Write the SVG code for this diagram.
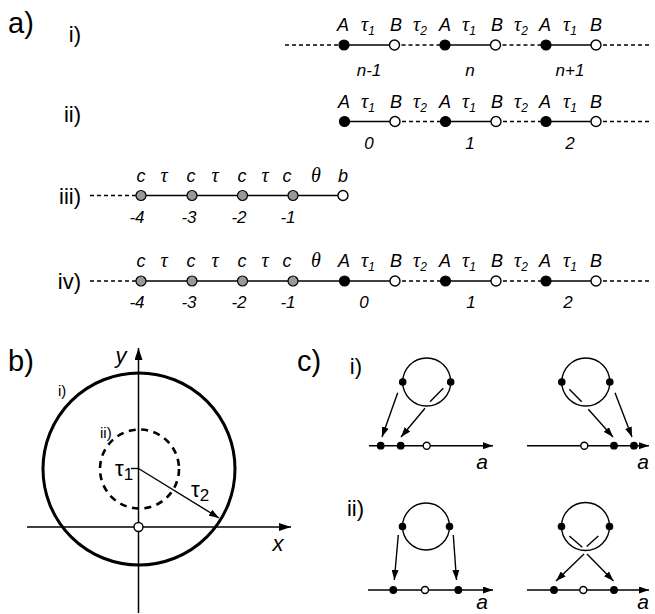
<svg xmlns="http://www.w3.org/2000/svg" width="655" height="614" viewBox="0 0 655 614">
<style>
.bg{fill:#fff}
.sol{stroke:#000;stroke-width:1.4;fill:none}
.dsh{stroke:#000;stroke-width:1.4;fill:none;stroke-dasharray:4 3}
.blk{fill:#000;stroke:#000;stroke-width:1.2}
.opn{fill:#fff;stroke:#000;stroke-width:1.4}
.gry{fill:#999;stroke:#000;stroke-width:1.2}
.lbl{font-family:"Liberation Sans",Arial,sans-serif;font-style:italic;font-size:18px;text-anchor:middle}
.grk{font-family:"Liberation Serif","Times New Roman",serif;font-style:italic;font-size:20px;text-anchor:middle}
.sub{font-family:"Liberation Sans",Arial,sans-serif;font-style:italic;font-size:12px}
.num{font-family:"Liberation Sans",Arial,sans-serif;font-style:italic;font-size:17px;text-anchor:middle}
.pan{font-family:"Liberation Sans",Arial,sans-serif;font-size:29px}
.rom{font-family:"Liberation Sans",Arial,sans-serif;font-size:22px;text-anchor:end}
.roms{font-family:"Liberation Sans",Arial,sans-serif;font-size:15px}
.ax{stroke:#000;stroke-width:1.5;fill:none}
.arr{stroke:#000;stroke-width:1.4;fill:none}
.al{font-family:"Liberation Sans",Arial,sans-serif;font-style:italic;font-size:21px;text-anchor:middle}
</style>
<defs>
<marker id="ah" markerWidth="10" markerHeight="7" refX="10" refY="3.5" orient="auto" markerUnits="userSpaceOnUse">
<path d="M0,0 L10,3.5 L0,7 z" fill="#000"/>
</marker>
<marker id="ahb" markerWidth="12" markerHeight="8" refX="12" refY="4" orient="auto" markerUnits="userSpaceOnUse">
<path d="M0,0 L12,4 L0,8 z" fill="#000"/>
</marker>
</defs>
<rect class="bg" width="655" height="614"/>

<!-- Panel a -->
<g id="panel-a">
<text class="pan" x="8" y="33">a)</text>
<text class="rom" x="81" y="42">i)</text>
<text class="rom" x="81" y="122">ii)</text>
<text class="rom" x="81" y="204">iii)</text>
<text class="rom" x="81" y="289">iv)</text>
</g>

<!-- Row i -->
<g id="row-i">
<g id="row-i-connectors">
<line class="dsh" x1="285" y1="45" x2="344" y2="45"/>
<line class="sol" x1="344" y1="45" x2="394.5" y2="45"/>
<line class="dsh" x1="394.5" y1="45" x2="445" y2="45"/>
<line class="sol" x1="445" y1="45" x2="495.5" y2="45"/>
<line class="dsh" x1="495.5" y1="45" x2="546" y2="45"/>
<line class="sol" x1="546" y1="45" x2="596" y2="45"/>
<line class="dsh" x1="596" y1="45" x2="652" y2="45"/>
</g>
<g id="i-A1"><circle class="blk" cx="344" cy="45" r="5"/></g>
<g id="i-B1"><circle class="opn" cx="394.5" cy="45" r="5"/></g>
<g id="i-A2"><circle class="blk" cx="445" cy="45" r="5"/></g>
<g id="i-B2"><circle class="opn" cx="495.5" cy="45" r="5"/></g>
<g id="i-A3"><circle class="blk" cx="546" cy="45" r="5"/></g>
<g id="i-B3"><circle class="opn" cx="596" cy="45" r="5"/></g>
<text class="lbl" x="343" y="31">A</text>
<text class="grk" x="368" y="31">τ<tspan class="sub" dy="4">1</tspan></text>
<text class="lbl" x="396" y="31">B</text>
<text class="grk" x="420" y="31">τ<tspan class="sub" dy="4">2</tspan></text>
<text class="lbl" x="445" y="31">A</text>
<text class="grk" x="469" y="31">τ<tspan class="sub" dy="4">1</tspan></text>
<text class="lbl" x="497" y="31">B</text>
<text class="grk" x="521" y="31">τ<tspan class="sub" dy="4">2</tspan></text>
<text class="lbl" x="545" y="31">A</text>
<text class="grk" x="570" y="31">τ<tspan class="sub" dy="4">1</tspan></text>
<text class="lbl" x="596" y="31">B</text>
<text class="num" x="369" y="76">n-1</text>
<text class="num" x="470" y="76">n</text>
<text class="num" x="570" y="76">n+1</text>
</g>

<!-- Row ii -->
<g id="row-ii">
<g id="row-ii-connectors">
<line class="sol" x1="344.5" y1="121.5" x2="395" y2="121.5"/>
<line class="dsh" x1="395" y1="121.5" x2="445.5" y2="121.5"/>
<line class="sol" x1="445.5" y1="121.5" x2="496" y2="121.5"/>
<line class="dsh" x1="496" y1="121.5" x2="546" y2="121.5"/>
<line class="sol" x1="546" y1="121.5" x2="596" y2="121.5"/>
<line class="dsh" x1="596" y1="121.5" x2="652" y2="121.5"/>
</g>
<g id="ii-A0"><circle class="blk" cx="344.5" cy="121.5" r="5"/></g>
<g id="ii-B0"><circle class="opn" cx="395" cy="121.5" r="5"/></g>
<g id="ii-A1"><circle class="blk" cx="445.5" cy="121.5" r="5"/></g>
<g id="ii-B1"><circle class="opn" cx="496" cy="121.5" r="5"/></g>
<g id="ii-A2"><circle class="blk" cx="546" cy="121.5" r="5"/></g>
<g id="ii-B2"><circle class="opn" cx="596" cy="121.5" r="5"/></g>
<text class="lbl" x="344" y="107.5">A</text>
<text class="grk" x="368" y="107.5">τ<tspan class="sub" dy="4">1</tspan></text>
<text class="lbl" x="396" y="107.5">B</text>
<text class="grk" x="420" y="107.5">τ<tspan class="sub" dy="4">2</tspan></text>
<text class="lbl" x="445" y="107.5">A</text>
<text class="grk" x="469" y="107.5">τ<tspan class="sub" dy="4">1</tspan></text>
<text class="lbl" x="497" y="107.5">B</text>
<text class="grk" x="521" y="107.5">τ<tspan class="sub" dy="4">2</tspan></text>
<text class="lbl" x="545" y="107.5">A</text>
<text class="grk" x="570" y="107.5">τ<tspan class="sub" dy="4">1</tspan></text>
<text class="lbl" x="596" y="107.5">B</text>
<text class="num" x="369" y="148.5">0</text>
<text class="num" x="470" y="148.5">1</text>
<text class="num" x="570" y="148.5">2</text>
</g>

<!-- Row iii -->
<g id="row-iii">
<g id="row-iii-connectors">
<line class="dsh" x1="90" y1="195.5" x2="141" y2="195.5"/>
<line class="sol" x1="141" y1="195.5" x2="343" y2="195.5"/>
</g>
<g id="iii-c4"><circle class="gry" cx="141" cy="195.5" r="5"/></g>
<g id="iii-c3"><circle class="gry" cx="192" cy="195.5" r="5"/></g>
<g id="iii-c2"><circle class="gry" cx="242.5" cy="195.5" r="5"/></g>
<g id="iii-c1"><circle class="gry" cx="293" cy="195.5" r="5"/></g>
<g id="iii-b"><circle class="opn" cx="343" cy="195.5" r="5"/></g>
<text class="lbl" x="141" y="181.5">c</text>
<text class="grk" x="164" y="181.5">τ</text>
<text class="lbl" x="191" y="181.5">c</text>
<text class="grk" x="215" y="181.5">τ</text>
<text class="lbl" x="242" y="181.5">c</text>
<text class="grk" x="265" y="181.5">τ</text>
<text class="lbl" x="287" y="181.5">c</text>
<text class="grk" x="316" y="181.5">θ</text>
<text class="lbl" x="343" y="181.5">b</text>
<text class="num" x="137" y="222.5">-4</text>
<text class="num" x="189" y="222.5">-3</text>
<text class="num" x="239" y="222.5">-2</text>
<text class="num" x="288" y="222.5">-1</text>
</g>

<!-- Row iv -->
<g id="row-iv">
<g id="row-iv-connectors">
<line class="dsh" x1="90" y1="281" x2="141" y2="281"/>
<line class="sol" x1="141" y1="281" x2="395" y2="281"/>
<line class="dsh" x1="395" y1="281" x2="445.5" y2="281"/>
<line class="sol" x1="445.5" y1="281" x2="496" y2="281"/>
<line class="dsh" x1="496" y1="281" x2="546" y2="281"/>
<line class="sol" x1="546" y1="281" x2="596" y2="281"/>
<line class="dsh" x1="596" y1="281" x2="652" y2="281"/>
</g>
<g id="iv-c4"><circle class="gry" cx="141" cy="281" r="5"/></g>
<g id="iv-c3"><circle class="gry" cx="192" cy="281" r="5"/></g>
<g id="iv-c2"><circle class="gry" cx="242.5" cy="281" r="5"/></g>
<g id="iv-c1"><circle class="gry" cx="293" cy="281" r="5"/></g>
<g id="iv-A0"><circle class="blk" cx="344.5" cy="281" r="5"/></g>
<g id="iv-B0"><circle class="opn" cx="395" cy="281" r="5"/></g>
<g id="iv-A1"><circle class="blk" cx="445.5" cy="281" r="5"/></g>
<g id="iv-B1"><circle class="opn" cx="496" cy="281" r="5"/></g>
<g id="iv-A2"><circle class="blk" cx="546" cy="281" r="5"/></g>
<g id="iv-B2"><circle class="opn" cx="596" cy="281" r="5"/></g>
<text class="lbl" x="141" y="267">c</text>
<text class="grk" x="164" y="267">τ</text>
<text class="lbl" x="191" y="267">c</text>
<text class="grk" x="215" y="267">τ</text>
<text class="lbl" x="242" y="267">c</text>
<text class="grk" x="265" y="267">τ</text>
<text class="lbl" x="287" y="267">c</text>
<text class="grk" x="316" y="267">θ</text>
<text class="lbl" x="344" y="267">A</text>
<text class="grk" x="368" y="267">τ<tspan class="sub" dy="4">1</tspan></text>
<text class="lbl" x="396" y="267">B</text>
<text class="grk" x="420" y="267">τ<tspan class="sub" dy="4">2</tspan></text>
<text class="lbl" x="445" y="267">A</text>
<text class="grk" x="469" y="267">τ<tspan class="sub" dy="4">1</tspan></text>
<text class="lbl" x="497" y="267">B</text>
<text class="grk" x="521" y="267">τ<tspan class="sub" dy="4">2</tspan></text>
<text class="lbl" x="545" y="267">A</text>
<text class="grk" x="570" y="267">τ<tspan class="sub" dy="4">1</tspan></text>
<text class="lbl" x="596" y="267">B</text>
<text class="num" x="137" y="308">-4</text>
<text class="num" x="189" y="308">-3</text>
<text class="num" x="239" y="308">-2</text>
<text class="num" x="288" y="308">-1</text>
<text class="num" x="364" y="308">0</text>
<text class="num" x="471" y="308">1</text>
<text class="num" x="568" y="308">2</text>
</g>

<!-- Panel b -->
<g id="panel-b">
<text class="pan" x="8" y="371">b)</text>
<g id="b-axes">
<line class="ax" x1="138.5" y1="613" x2="138.5" y2="348" marker-end="url(#ahb)"/>
<line class="ax" x1="27" y1="527" x2="291" y2="527" marker-end="url(#ahb)"/>
</g>
<g id="b-circle-i"><circle cx="139" cy="469" r="96" fill="none" stroke="#000" stroke-width="3"/></g>
<g id="b-circle-ii"><circle cx="139.5" cy="469" r="39.5" fill="none" stroke="#000" stroke-width="2.6" stroke-dasharray="7 5.5"/></g>
<g id="b-origin"><circle class="opn" cx="138.5" cy="527" r="4.5"/></g>
<line class="sol" x1="131" y1="468.5" x2="138.5" y2="468.5"/>
<line class="arr" x1="138.5" y1="468.5" x2="219" y2="518" marker-end="url(#ah)"/>
<text x="115" y="476" font-family="'Liberation Sans',Arial,sans-serif" font-size="22">τ<tspan font-size="17" dy="4">1</tspan></text>
<text x="191" y="497" font-family="'Liberation Sans',Arial,sans-serif" font-size="22">τ<tspan font-size="17" dy="4">2</tspan></text>
<text x="121" y="363" font-family="'Liberation Sans',Arial,sans-serif" font-style="italic" font-size="22" text-anchor="middle">y</text>
<text x="278" y="551" font-family="'Liberation Sans',Arial,sans-serif" font-style="italic" font-size="22" text-anchor="middle">x</text>
<text class="roms" x="58" y="396">i)</text>
<text class="roms" x="100" y="438">ii)</text>
</g>

<!-- Panel c -->
<g id="panel-c">
<text class="pan" x="297" y="371">c)</text>
<text class="rom" x="362" y="374">i)</text>
<text class="rom" x="364" y="516">ii)</text>

<g id="c-i-left">
<circle cx="426.7" cy="382" r="24" class="sol"/>
<circle class="blk" cx="402.7" cy="382" r="3.2"/>
<circle class="blk" cx="450.7" cy="382" r="3.2"/>
<line class="sol" x1="430" y1="401.7" x2="443.3" y2="388.3"/>
<line class="ax" x1="369" y1="445.7" x2="493" y2="445.7" marker-end="url(#ah)"/>
<circle class="blk" cx="380.7" cy="445.7" r="3.3"/>
<circle class="blk" cx="400.7" cy="445.7" r="3.3"/>
<circle class="opn" cx="426.7" cy="445.7" r="3.5"/>
<line class="arr" x1="397.7" y1="392.7" x2="382" y2="437" marker-end="url(#ah)"/>
<line class="arr" x1="425" y1="408.3" x2="401" y2="437" marker-end="url(#ah)"/>
<text class="al" x="482" y="469">a</text>
</g>

<g id="c-i-right">
<circle cx="585.8" cy="382" r="24" class="sol"/>
<circle class="blk" cx="561.8" cy="382" r="3.2"/>
<circle class="blk" cx="609.8" cy="382" r="3.2"/>
<line class="sol" x1="569.3" y1="389.3" x2="581.7" y2="401.7"/>
<line class="ax" x1="527" y1="445.7" x2="649" y2="445.7" marker-end="url(#ah)"/>
<circle class="opn" cx="584.3" cy="445.7" r="3.5"/>
<circle class="blk" cx="614" cy="445.7" r="3.3"/>
<circle class="blk" cx="634" cy="445.7" r="3.3"/>
<line class="arr" x1="588.3" y1="409.3" x2="613" y2="437" marker-end="url(#ah)"/>
<line class="arr" x1="615" y1="392.7" x2="632" y2="437" marker-end="url(#ah)"/>
<text class="al" x="643" y="469">a</text>
</g>

<g id="c-ii-left">
<circle cx="426" cy="526.5" r="23.5" class="sol"/>
<circle class="blk" cx="402.5" cy="526.5" r="3.2"/>
<circle class="blk" cx="449.5" cy="526.5" r="3.2"/>
<line class="ax" x1="368" y1="590" x2="493" y2="590" marker-end="url(#ah)"/>
<circle class="blk" cx="393.3" cy="590" r="3.3"/>
<circle class="opn" cx="425" cy="590" r="3.5"/>
<circle class="blk" cx="458.3" cy="590" r="3.3"/>
<line class="arr" x1="398.3" y1="535" x2="394.3" y2="580" marker-end="url(#ah)"/>
<line class="arr" x1="453.3" y1="535" x2="456.5" y2="580" marker-end="url(#ah)"/>
<text class="al" x="482" y="609">a</text>
</g>

<g id="c-ii-right">
<circle cx="585.5" cy="526.5" r="24" class="sol"/>
<circle class="blk" cx="561.5" cy="526.5" r="3.2"/>
<circle class="blk" cx="609.5" cy="526.5" r="3.2"/>
<line class="sol" x1="569.3" y1="536" x2="582.3" y2="547.3"/>
<line class="sol" x1="598.3" y1="536" x2="586.7" y2="546.5"/>
<line class="ax" x1="527" y1="590" x2="649" y2="590" marker-end="url(#ah)"/>
<circle class="blk" cx="554" cy="590" r="3.3"/>
<circle class="opn" cx="583.3" cy="590" r="3.5"/>
<circle class="blk" cx="614" cy="590" r="3.3"/>
<line class="arr" x1="584" y1="554" x2="556" y2="581" marker-end="url(#ah)"/>
<line class="arr" x1="587" y1="554" x2="613.5" y2="581" marker-end="url(#ah)"/>
<text class="al" x="643" y="609">a</text>
</g>
</g>
</svg>
